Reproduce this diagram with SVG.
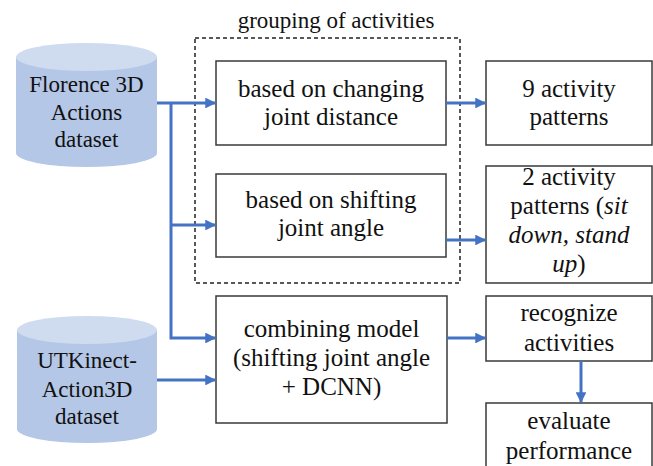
<svg xmlns="http://www.w3.org/2000/svg" width="653" height="466" viewBox="0 0 653 466">
  <style>
    text { font-family: "Liberation Serif", "Times New Roman", Times, serif; fill: #111111; text-anchor: middle; }
    .box { fill: #ffffff; stroke: #3a3a3a; stroke-width: 1.5; }
    .group { fill: none; stroke: #222222; stroke-width: 1.5; stroke-dasharray: 4 3; }
    .cyl-body { fill: #b4c7e7; }
    .cyl-top { fill: #cfdbef; }
    .t { font-size: 25px; }
    .tc { font-size: 23px; }
    .flow { fill: none; stroke: #4472c4; stroke-width: 3; }
  </style>
  <defs>
    <marker id="arrow" viewBox="0 0 10 10" refX="9" refY="5" markerWidth="4" markerHeight="3.6" orient="auto" markerUnits="strokeWidth">
      <path d="M0,0 L10,5 L0,10 z" fill="#4472c4"/>
    </marker>
  </defs>

  <rect width="653" height="466" fill="#ffffff"/>

  <!-- dashed grouping frame -->
  <g id="grouping">
    <rect class="group" x="195" y="38" width="265" height="245"/>
    <text class="tc" x="336" y="28">grouping of activities</text>
  </g>

  <!-- data sources -->
  <g id="florence">
    <path class="cyl-body" d="M16,57 L16,153 A70.5,14 0 0 0 157,153 L157,57 Z"/>
    <ellipse class="cyl-top" cx="86.5" cy="57" rx="70.5" ry="14"/>
    <text class="tc" x="86.5" y="92">Florence 3D</text>
    <text class="tc" x="86.5" y="120">Actions</text>
    <text class="tc" x="86.5" y="147">dataset</text>
  </g>

  <g id="utkinect">
    <path class="cyl-body" d="M17,330 L17,429 A70,14 0 0 0 157,429 L157,330 Z"/>
    <ellipse class="cyl-top" cx="87" cy="330" rx="70" ry="14"/>
    <text class="tc" x="87" y="368">UTKinect-</text>
    <text class="tc" x="87" y="397">Action3D</text>
    <text class="tc" x="87" y="424">dataset</text>
  </g>

  <!-- processing steps -->
  <g id="joint-distance">
    <rect class="box" x="216" y="61" width="230" height="84"/>
    <text class="t" x="331" y="97">based on changing</text>
    <text class="t" x="331" y="125">joint distance</text>
  </g>

  <g id="joint-angle">
    <rect class="box" x="216" y="174" width="230" height="83"/>
    <text class="t" x="331" y="208">based on shifting</text>
    <text class="t" x="331" y="236">joint angle</text>
  </g>

  <g id="combining">
    <rect class="box" x="216" y="296" width="231" height="127"/>
    <text class="t" x="331.5" y="337">combining model</text>
    <text class="t" x="331.5" y="366">(shifting joint angle</text>
    <text class="t" x="331.5" y="395">+ DCNN)</text>
  </g>

  <!-- results -->
  <g id="nine-patterns">
    <rect class="box" x="486" y="61" width="166" height="84"/>
    <text class="t" x="569" y="97">9 activity</text>
    <text class="t" x="569" y="125">patterns</text>
  </g>

  <g id="two-patterns">
    <rect class="box" x="486" y="166" width="166" height="117"/>
    <text class="t" x="569" y="185">2 activity</text>
    <text class="t" x="569" y="214">patterns (<tspan font-style="italic">sit</tspan></text>
    <text class="t" x="569" y="243" font-style="italic">down, stand</text>
    <text class="t" x="569" y="272"><tspan font-style="italic">up</tspan>)</text>
  </g>

  <g id="recognize">
    <rect class="box" x="486" y="296" width="166" height="65"/>
    <text class="t" x="569" y="321">recognize</text>
    <text class="t" x="569" y="351">activities</text>
  </g>

  <g id="evaluate">
    <rect class="box" x="486" y="403" width="166" height="70"/>
    <text class="t" x="569" y="429">evaluate</text>
    <text class="t" x="569" y="459">performance</text>
  </g>

  <!-- connectors -->
  <g id="connectors">
    <path class="flow" d="M157,103 L215,103" marker-end="url(#arrow)"/>
    <path class="flow" d="M171,103 L171,338 L215,338" marker-end="url(#arrow)"/>
    <path class="flow" d="M171,225 L215,225" marker-end="url(#arrow)"/>
    <path class="flow" d="M157,380 L215,380" marker-end="url(#arrow)"/>
    <path class="flow" d="M446,103 L485,103" marker-end="url(#arrow)"/>
    <path class="flow" d="M446,240 L485,240" marker-end="url(#arrow)"/>
    <path class="flow" d="M447,338 L485,338" marker-end="url(#arrow)"/>
    <path class="flow" d="M581,361 L581,402" marker-end="url(#arrow)"/>
  </g>
</svg>
